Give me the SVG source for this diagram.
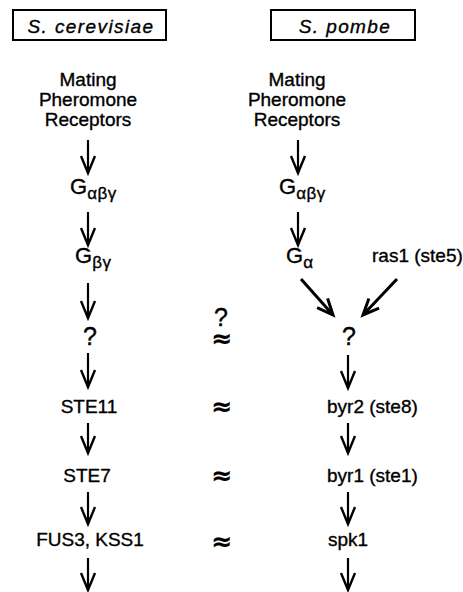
<svg xmlns="http://www.w3.org/2000/svg" width="463" height="592" viewBox="0 0 463 592">
  <style>
    text { font-family: "Liberation Sans", Arial, sans-serif; font-size: 19px; fill: #000; stroke: #000; stroke-width: 0.35px; }
    .title { font-style: italic; letter-spacing: 1.4px; }
    .mid { text-anchor: middle; }
    .g { font-size: 22px; }
    .sub { font-size: 17px; letter-spacing: 0.5px; }
    .q { font-size: 25px; }
    .approx { font-family: "DejaVu Sans", sans-serif; font-weight: bold; font-size: 25px; text-anchor: middle; stroke-width: 0.3px; }
    .box { fill: #fff; stroke: #000; stroke-width: 2; }
    .arrow { stroke: #000; stroke-width: 2.2; fill: none; marker-end: url(#head); }
    .diag { stroke: #000; stroke-width: 3; fill: none; marker-end: url(#headBold); }
  </style>
  <defs>
    <marker id="head" markerUnits="userSpaceOnUse" viewBox="-20 -10 22 20" markerWidth="22" markerHeight="20" refX="0" refY="0" orient="auto" overflow="visible">
      <path d="M-17,-7 L0,0 L-17,7" fill="none" stroke="#000" stroke-width="2.4"/>
    </marker>
    <marker id="headBold" markerUnits="userSpaceOnUse" viewBox="-20 -10 22 20" markerWidth="22" markerHeight="20" refX="0" refY="0" orient="auto" overflow="visible">
      <path d="M-16,-7 L0,0 L-16,7" fill="none" stroke="#000" stroke-width="3"/>
    </marker>
  </defs>

  <!-- species headers -->
  <g id="cerevisiae">
    <rect class="box" x="13" y="10" width="153" height="30"/>
    <text class="title mid" x="91" y="33">S. cerevisiae</text>
  </g>
  <g id="pombe">
    <rect class="box" x="271" y="10" width="144" height="30"/>
    <text class="title mid" x="345" y="33">S. pombe</text>
  </g>

  <!-- S. cerevisiae pathway -->
  <g id="sc-receptors">
    <text class="mid" x="88" y="86">Mating</text>
    <text class="mid" x="88" y="106">Pheromone</text>
    <text class="mid" x="88" y="126">Receptors</text>
  </g>
  <g id="sc-gabg"><text class="g" x="70" y="194">G<tspan class="sub" dy="5">αβγ</tspan></text></g>
  <g id="sc-gbg"><text class="g" x="75" y="263">G<tspan class="sub" dy="5">βγ</tspan></text></g>
  <g id="sc-unknown"><text class="mid q" x="90" y="345">?</text></g>
  <g id="sc-ste11"><text class="mid" x="89" y="413">STE11</text></g>
  <g id="sc-ste7"><text class="mid" x="87" y="482">STE7</text></g>
  <g id="sc-fus3"><text class="mid" x="90" y="546">FUS3, KSS1</text></g>

  <!-- S. pombe pathway -->
  <g id="sp-receptors">
    <text class="mid" x="297" y="86">Mating</text>
    <text class="mid" x="297" y="106">Pheromone</text>
    <text class="mid" x="297" y="126">Receptors</text>
  </g>
  <g id="sp-gabg"><text class="g" x="279" y="194">G<tspan class="sub" dy="5">αβγ</tspan></text></g>
  <g id="sp-ga"><text class="g" x="286" y="263">G<tspan class="sub" dy="5">α</tspan></text></g>
  <g id="sp-ras1"><text x="372" y="262">ras1 (ste5)</text></g>
  <g id="sp-unknown"><text class="mid q" x="349" y="345">?</text></g>
  <g id="sp-byr2"><text x="327" y="413">byr2 (ste8)</text></g>
  <g id="sp-byr1"><text x="327" y="482">byr1 (ste1)</text></g>
  <g id="sp-spk1"><text x="328" y="546">spk1</text></g>

  <!-- homology marks between the two pathways -->
  <g id="homology">
    <text class="mid"><tspan class="q" x="221" y="326">?</tspan><tspan class="approx" x="222" y="347">≈</tspan></text>
    <text class="approx" x="222" y="415">≈</text>
    <text class="approx" x="222" y="484">≈</text>
    <text class="approx" x="222" y="550">≈</text>
  </g>

  <!-- connectors -->
  <g id="connectors">
    <line class="arrow" x1="88" y1="140" x2="88" y2="173"/>
    <line class="arrow" x1="88" y1="212" x2="88" y2="245"/>
    <line class="arrow" x1="88" y1="283" x2="88" y2="318"/>
    <line class="arrow" x1="88" y1="353" x2="88" y2="387"/>
    <line class="arrow" x1="88" y1="423" x2="88" y2="453"/>
    <line class="arrow" x1="88" y1="492" x2="88" y2="524"/>
    <line class="arrow" x1="88" y1="558" x2="88" y2="590"/>

    <line class="arrow" x1="298" y1="140" x2="298" y2="173"/>
    <line class="arrow" x1="298" y1="212" x2="298" y2="245"/>
    <line class="diag" x1="301" y1="279" x2="333" y2="315"/>
    <line class="diag" x1="397" y1="279" x2="363" y2="315"/>
    <line class="arrow" x1="348" y1="355" x2="348" y2="388"/>
    <line class="arrow" x1="348" y1="423" x2="348" y2="453"/>
    <line class="arrow" x1="348" y1="492" x2="348" y2="524"/>
    <line class="arrow" x1="348" y1="558" x2="348" y2="590"/>
  </g>
</svg>
